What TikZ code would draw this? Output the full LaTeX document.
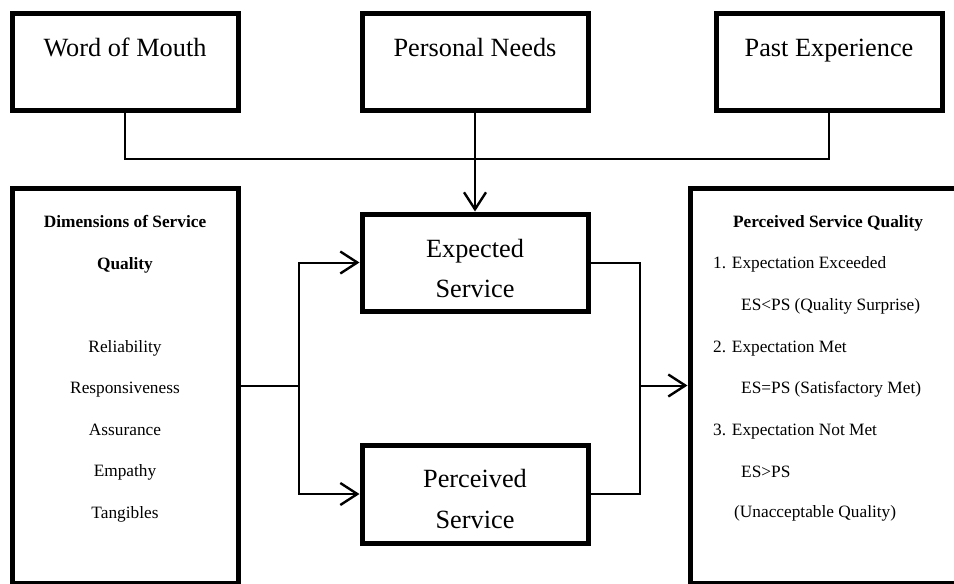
\documentclass[tikz,border=0pt]{standalone}
\usepackage{fontspec}
\setmainfont{Liberation Serif}
\usetikzlibrary{arrows.meta}
\begin{document}
\begin{tikzpicture}[x=1pt,y=-1pt,
 box/.style={draw,line width=5pt,inner sep=0pt,minimum width=226pt,minimum height=97pt},
 tallbox/.style={draw,line width=5pt,inner sep=0pt,minimum height=395pt},
 big/.style={font=\fontsize{26.3}{30}\selectfont,inner sep=0pt,anchor=base},
 small/.style={font=\fontsize{17.3}{20}\selectfont,inner sep=0pt,anchor=base},
 smallw/.style={small,anchor=base west},
 conn/.style={line width=2pt},
 arr/.style={line width=2pt,-{Straight Barb[length=17pt,width=22pt,line width=2.4pt]}}]
\useasboundingbox (0,0) rectangle (954,584);
% top boxes
\node[box] (wom) at (125,61.5) {};
\node[box] (pn) at (475,61.5) {};
\node[box] (pe) at (829,61.5) {};
\node[big] (womt) at (125,56) {Word of Mouth};
\node[big] (pnt) at (475,56) {Personal Needs};
\node[big] (pet) at (829,56) {Past Experience};
% middle boxes
\node[box] (es) at (475,262.5) {};
\node[big] (est1) at (475,257) {Expected};
\node[big] (est2) at (475,297) {Service};
\node[box,minimum height=98pt] (ps) at (475,494) {};
\node[big] (pst1) at (475,487) {Perceived};
\node[big] (pst2) at (475,528) {Service};
% left box
\node[tallbox,minimum width=226pt] (dim) at (125,385.5) {};
\node[small,font=\fontsize{17.3}{20}\selectfont\bfseries] (d1) at (125,227) {Dimensions of Service};
\node[small,font=\fontsize{17.3}{20}\selectfont\bfseries] (d2) at (125,269) {Quality};
\node[small] (d3) at (125,352) {Reliability};
\node[small] (d4) at (125,393) {Responsiveness};
\node[small] (d5) at (125,435) {Assurance};
\node[small] (d6) at (125,476) {Empathy};
\node[small] (d7) at (125,518) {Tangibles};
% right box
\node[tallbox,minimum width=274pt] (psq) at (827,385.5) {};
\node[small,font=\fontsize{17.3}{20}\selectfont\bfseries] (q1) at (828,227) {Perceived Service Quality};
\node[smallw] (q2) at (713,268) {1. Expectation Exceeded};
\node[smallw] (q3) at (741,310) {ES<PS (Quality Surprise)};
\node[smallw] (q4) at (713,352) {2. Expectation Met};
\node[smallw] (q5) at (741,393) {ES=PS (Satisfactory Met)};
\node[smallw] (q6) at (713,435) {3. Expectation Not Met};
\node[smallw] (q7) at (741,477) {ES>PS};
\node[smallw] (q8) at (734,517) {(Unacceptable Quality)};
% connectors
\coordinate (j) at (475,159);
\draw[conn] (wom.south) |- (j) -| (pe.south);
\draw[arr] (pn.south) -- (es.north);
\coordinate (split) at (299,385.5);
\draw[conn] (dim.east) -- (split);
\draw[arr] (split) |- (es.west);
\draw[arr] (split) |- (ps.west);
\coordinate (merge) at (640,385.5);
\draw[conn] (es.east) -| (merge);
\draw[conn] (ps.east) -| (merge);
\draw[arr] (merge) -- (psq.west);
\end{tikzpicture}
\end{document}
